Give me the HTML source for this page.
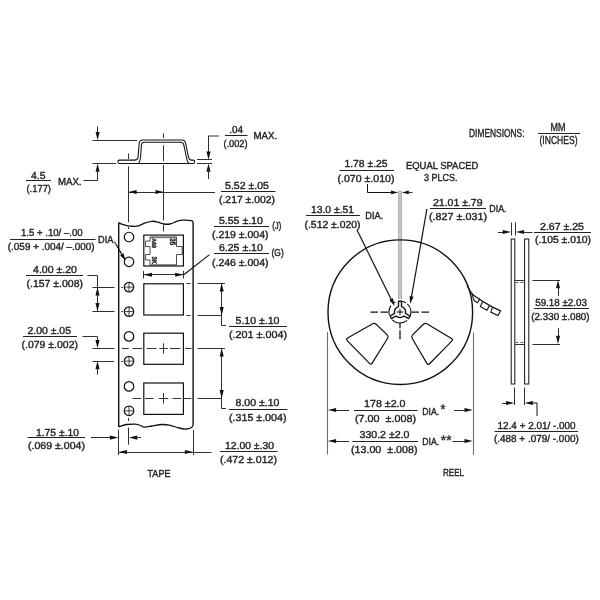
<!DOCTYPE html>
<html lang="en">
<head>
<meta charset="utf-8">
<title>Tape and Reel Dimensions</title>
<style>
html,body{margin:0;padding:0;background:#fff;}
body{width:600px;height:600px;overflow:hidden;}
svg{display:block;opacity:0.999;will-change:transform;}
svg text{white-space:pre;text-rendering:geometricPrecision;font-family:"Liberation Sans",sans-serif;fill:#222222;stroke:#222222;stroke-width:0.38px;}
</style>
</head>
<body>
<svg width="600" height="600" viewBox="0 0 600 600">
<rect x="0" y="0" width="600" height="600" fill="#ffffff"/>
<path d="M119.3,160.1 L134.6,160.1 Q137.6,160.1 138,157.4 L139.2,143.6 Q139.5,139.9 143,139.9 L182,139.9 Q184.8,139.9 185.5,142.6 L188.5,157.4 Q189.1,160.1 191.6,160.1 L193.2,160.1 Q194.7,160.1 194.7,161.7 Q194.7,163.4 193.2,163.4 L119.3,163.4 Q117.9,163.4 117.9,161.7 Q117.9,160.1 119.3,160.1 Z" fill="none" stroke="#111111" stroke-width="1.05" stroke-linejoin="round"/>
<path d="M138.7,163.4 Q140.2,160.5 140.6,157 L141.4,145.2 Q141.6,142.3 144.5,142.3 L180.8,142.3 Q183.2,142.3 183.8,144.9 L186.6,158 Q187,161 188.6,163.4" fill="none" stroke="#111111" stroke-width="1.05" stroke-linejoin="round"/>
<line x1="163.5" y1="133.3" x2="163.5" y2="138" stroke="#303030" stroke-width="1.0"/>
<line x1="163.5" y1="145.3" x2="163.5" y2="161" stroke="#303030" stroke-width="1.0"/>
<line x1="163.5" y1="165" x2="163.5" y2="220.3" stroke="#303030" stroke-width="1.0"/>
<line x1="128.5" y1="153.5" x2="128.5" y2="159" stroke="#303030" stroke-width="1.0"/>
<line x1="128.5" y1="166.3" x2="128.5" y2="222.3" stroke="#303030" stroke-width="1.0"/>
<line x1="128.5" y1="227" x2="128.5" y2="229" stroke="#303030" stroke-width="1.0"/>
<line x1="163.5" y1="224.8" x2="163.5" y2="231.5" stroke="#303030" stroke-width="1.0"/>
<line x1="128.6" y1="192.5" x2="215" y2="192.5" stroke="#303030" stroke-width="1.0"/>
<polygon points="128.30,192.00 136.60,189.95 136.60,194.05" fill="#111111"/>
<polygon points="163.80,192.00 155.50,194.05 155.50,189.95" fill="#111111"/>
<text x="225" y="188.6" font-size="10.2" textLength="44" lengthAdjust="spacingAndGlyphs" text-anchor="start" >5.52 ±.05</text>
<line x1="221" y1="191.5" x2="275.5" y2="191.5" stroke="#222222" stroke-width="1.0"/>
<text x="219" y="203.1" font-size="10.2" textLength="56" lengthAdjust="spacingAndGlyphs" text-anchor="start" >(.217 ±.002)</text>
<line x1="92.5" y1="140.5" x2="137" y2="140.5" stroke="#303030" stroke-width="1.0"/>
<line x1="92.5" y1="163.5" x2="116" y2="163.5" stroke="#303030" stroke-width="1.0"/>
<line x1="97.5" y1="126.4" x2="97.5" y2="134" stroke="#303030" stroke-width="1.0"/>
<polygon points="97.60,140.30 95.55,132.00 99.65,132.00" fill="#111111"/>
<polygon points="97.60,163.40 99.65,171.70 95.55,171.70" fill="#111111"/>
<line x1="97.5" y1="170" x2="97.5" y2="180.5" stroke="#303030" stroke-width="1.0"/>
<line x1="83.5" y1="180.5" x2="98" y2="180.5" stroke="#303030" stroke-width="1.0"/>
<text x="31" y="178.6" font-size="10.2" textLength="14.5" lengthAdjust="spacingAndGlyphs" text-anchor="start" >4.5</text>
<line x1="26" y1="180.5" x2="51" y2="180.5" stroke="#222222" stroke-width="1.0"/>
<text x="26.5" y="191.6" font-size="10.2" textLength="24.5" lengthAdjust="spacingAndGlyphs" text-anchor="start" >(.177)</text>
<text x="58" y="184.6" font-size="10.2" textLength="23.5" lengthAdjust="spacingAndGlyphs" text-anchor="start" >MAX.</text>
<line x1="197" y1="159.5" x2="212" y2="159.5" stroke="#303030" stroke-width="1.0"/>
<line x1="197" y1="163.5" x2="212" y2="163.5" stroke="#303030" stroke-width="1.0"/>
<line x1="208.5" y1="136" x2="208.5" y2="152" stroke="#303030" stroke-width="1.0"/>
<line x1="208" y1="136" x2="219" y2="136" stroke="#303030" stroke-width="1.0"/>
<polygon points="208.50,159.70 206.45,151.40 210.55,151.40" fill="#111111"/>
<polygon points="208.50,163.50 210.55,171.80 206.45,171.80" fill="#111111"/>
<line x1="208.5" y1="170" x2="208.5" y2="179" stroke="#303030" stroke-width="1.0"/>
<text x="229.3" y="133.1" font-size="10.2" textLength="13.7" lengthAdjust="spacingAndGlyphs" text-anchor="start" >.04</text>
<line x1="225" y1="135.5" x2="247.5" y2="135.5" stroke="#222222" stroke-width="1.0"/>
<text x="223.4" y="146.6" font-size="10.2" textLength="24.1" lengthAdjust="spacingAndGlyphs" text-anchor="start" >(.002)</text>
<text x="253.4" y="138.9" font-size="10.2" textLength="23.7" lengthAdjust="spacingAndGlyphs" text-anchor="start" >MAX.</text>
<path d="M118.7,222.8 C120.5,223.5 122,224.3 123.5,224.7 S128,226 131,226.2 S135,226.5 137,226.2 S142,224.2 144.5,223.2 S149.5,221.5 152,221.3 S156,221.6 158,222.2 S162,223.7 164,224 S168,224.4 170,224 S174,222.5 176,221.7 S180,220.4 182,220.2 S188,220.1 191.4,220.6 Q193.1,220.9 193.1,222.4" fill="none" stroke="#111111" stroke-width="1.3" />
<path d="M118.7,426.8 C121,426.1 124,424.8 126.5,424.5 S132,423.9 135.5,424.1 S141,425.8 143.7,427.1 C146,427.4 149,426.5 152,426.0 S159,424.6 162.5,424.5 S167.5,424.8 170,425.3 S176,427.2 179,428.0 S184,429.2 186.5,429.0 S190.3,428.5 191.6,427.5 S193.1,425.6 193.1,424.3" fill="none" stroke="#111111" stroke-width="1.3" />
<line x1="118.7" y1="222.5" x2="118.7" y2="427.1" stroke="#111111" stroke-width="1.4"/>
<line x1="193.1" y1="222.2" x2="193.1" y2="424.5" stroke="#111111" stroke-width="1.4"/>
<circle cx="129.0" cy="237" r="4.75" fill="none" stroke="#111111" stroke-width="1.2"/>
<circle cx="129.0" cy="261.8" r="4.75" fill="none" stroke="#111111" stroke-width="1.2"/>
<circle cx="129.0" cy="287.1" r="4.75" fill="none" stroke="#111111" stroke-width="1.2"/>
<line x1="124.4" y1="287.1" x2="133.6" y2="287.1" stroke="#303030" stroke-width="0.9"/>
<line x1="129.0" y1="282.5" x2="129.0" y2="291.70000000000005" stroke="#303030" stroke-width="0.9"/>
<circle cx="129.0" cy="311.6" r="4.75" fill="none" stroke="#111111" stroke-width="1.2"/>
<line x1="124.4" y1="311.6" x2="133.6" y2="311.6" stroke="#303030" stroke-width="0.9"/>
<line x1="129.0" y1="307.0" x2="129.0" y2="316.20000000000005" stroke="#303030" stroke-width="0.9"/>
<circle cx="129.0" cy="336.4" r="4.75" fill="none" stroke="#111111" stroke-width="1.2"/>
<circle cx="129.0" cy="361.1" r="4.75" fill="none" stroke="#111111" stroke-width="1.2"/>
<line x1="124.4" y1="361.1" x2="133.6" y2="361.1" stroke="#303030" stroke-width="0.9"/>
<line x1="129.0" y1="356.5" x2="129.0" y2="365.70000000000005" stroke="#303030" stroke-width="0.9"/>
<circle cx="129.0" cy="386.4" r="4.75" fill="none" stroke="#111111" stroke-width="1.2"/>
<circle cx="129.0" cy="410.8" r="4.75" fill="none" stroke="#111111" stroke-width="1.2"/>
<line x1="124.4" y1="410.8" x2="133.6" y2="410.8" stroke="#303030" stroke-width="0.9"/>
<line x1="129.0" y1="406.2" x2="129.0" y2="415.40000000000003" stroke="#303030" stroke-width="0.9"/>
<rect x="143.8" y="235.1" width="39.599999999999994" height="30.900000000000006" fill="none" stroke="#111111" stroke-width="1.2"/>
<rect x="143.8" y="283.8" width="39.599999999999994" height="31.19999999999999" fill="none" stroke="#111111" stroke-width="1.2"/>
<rect x="143.8" y="333.2" width="39.599999999999994" height="31.100000000000023" fill="none" stroke="#111111" stroke-width="1.2"/>
<rect x="143.8" y="383" width="39.599999999999994" height="31.399999999999977" fill="none" stroke="#111111" stroke-width="1.2"/>
<path d="M150.6,237.6 H176 M150.6,264.6 H176" fill="none" stroke="#a0a0a0" stroke-width="1.2" />
<path d="M182.2,247 V254" fill="none" stroke="#a0a0a0" stroke-width="1.0" />
<path d="M150,237 H176.5 V246.5 H182.3 V254.5 H176.5 V265.3 H150 V260 H145.6 V254.5 H150 V246.6 H145.6 V241 H150 Z" fill="none" stroke="#3a3a3a" stroke-width="0.9" />
<text x="0" y="0.6" font-size="6.0" textLength="9.6" lengthAdjust="spacingAndGlyphs" text-anchor="start" transform="translate(152.6,238.2) rotate(90)" font-weight="bold">A69</text>
<text x="0" y="0.6" font-size="7.0" textLength="7.4" lengthAdjust="spacingAndGlyphs" text-anchor="start" transform="translate(152.4,256.6) rotate(90)" font-weight="bold">3K</text>
<text x="0" y="0.6" font-size="8.0" textLength="7.0" lengthAdjust="spacingAndGlyphs" text-anchor="start" transform="translate(170.4,238.2) rotate(90)" font-weight="bold">35</text>
<line x1="143.5" y1="271" x2="143.5" y2="278.5" stroke="#303030" stroke-width="1.0"/>
<line x1="183.5" y1="271" x2="183.5" y2="278.5" stroke="#303030" stroke-width="1.0"/>
<line x1="144" y1="274.5" x2="183.5" y2="274.5" stroke="#303030" stroke-width="1.0"/>
<polygon points="143.70,274.70 152.00,272.65 152.00,276.75" fill="#111111"/>
<polygon points="183.50,274.70 175.20,276.75 175.20,272.65" fill="#111111"/>
<line x1="183.8" y1="274.7" x2="209.5" y2="254.6" stroke="#111111" stroke-width="1.1"/>
<text x="219" y="223.6" font-size="10.2" textLength="43.8" lengthAdjust="spacingAndGlyphs" text-anchor="start" >5.55 ±.10</text>
<line x1="214" y1="226.5" x2="269" y2="226.5" stroke="#222222" stroke-width="1.0"/>
<text x="212" y="237.6" font-size="10.2" textLength="56.5" lengthAdjust="spacingAndGlyphs" text-anchor="start" >(.219 ±.004)</text>
<text x="272.3" y="228.9" font-size="10" textLength="9" lengthAdjust="spacingAndGlyphs" text-anchor="start" >(J)</text>
<text x="219" y="251.2" font-size="10.2" textLength="43.8" lengthAdjust="spacingAndGlyphs" text-anchor="start" >6.25 ±.10</text>
<line x1="214" y1="253.5" x2="269" y2="253.5" stroke="#222222" stroke-width="1.0"/>
<text x="212" y="265.6" font-size="10.2" textLength="56.5" lengthAdjust="spacingAndGlyphs" text-anchor="start" >(.246 ±.004)</text>
<text x="271.5" y="256.2" font-size="10" textLength="12.2" lengthAdjust="spacingAndGlyphs" text-anchor="start" >(G)</text>
<text x="33" y="273.1" font-size="10.2" textLength="44" lengthAdjust="spacingAndGlyphs" text-anchor="start" >4.00 ±.20</text>
<line x1="26" y1="275.5" x2="83" y2="275.5" stroke="#222222" stroke-width="1.0"/>
<text x="26.5" y="286.6" font-size="10.2" textLength="56.5" lengthAdjust="spacingAndGlyphs" text-anchor="start" >(.157 ±.008)</text>
<line x1="87.5" y1="275.5" x2="97.5" y2="275.5" stroke="#303030" stroke-width="1.0"/>
<line x1="97.5" y1="275.5" x2="97.5" y2="311.3" stroke="#303030" stroke-width="1.0"/>
<polygon points="97.50,287.30 99.55,295.60 95.45,295.60" fill="#111111"/>
<polygon points="97.50,311.30 95.45,303.00 99.55,303.00" fill="#111111"/>
<line x1="92.5" y1="287.5" x2="114.5" y2="287.5" stroke="#303030" stroke-width="1.0"/>
<line x1="92.5" y1="311.5" x2="114.5" y2="311.5" stroke="#303030" stroke-width="1.0"/>
<line x1="121.2" y1="287.5" x2="122.8" y2="287.5" stroke="#303030" stroke-width="1.0"/>
<line x1="121.2" y1="311.5" x2="122.8" y2="311.5" stroke="#303030" stroke-width="1.0"/>
<text x="27.5" y="334.3" font-size="10.2" textLength="43.5" lengthAdjust="spacingAndGlyphs" text-anchor="start" >2.00 ±.05</text>
<line x1="23" y1="336.5" x2="77" y2="336.5" stroke="#222222" stroke-width="1.0"/>
<text x="21.5" y="348.1" font-size="10.2" textLength="56.5" lengthAdjust="spacingAndGlyphs" text-anchor="start" >(.079 ±.002)</text>
<line x1="82.5" y1="336.5" x2="97.5" y2="336.5" stroke="#303030" stroke-width="1.0"/>
<line x1="97.5" y1="336.7" x2="97.5" y2="341" stroke="#303030" stroke-width="1.0"/>
<polygon points="97.50,348.30 95.45,340.00 99.55,340.00" fill="#111111"/>
<polygon points="97.50,361.00 99.55,369.30 95.45,369.30" fill="#111111"/>
<line x1="97.5" y1="368" x2="97.5" y2="374.5" stroke="#303030" stroke-width="1.0"/>
<line x1="92.5" y1="348.5" x2="114.5" y2="348.5" stroke="#303030" stroke-width="1.0"/>
<line x1="92.5" y1="361.5" x2="114" y2="361.5" stroke="#303030" stroke-width="1.0"/>
<line x1="121.2" y1="361.5" x2="122.8" y2="361.5" stroke="#303030" stroke-width="1.0"/>
<line x1="122" y1="348.5" x2="128.7" y2="348.5" stroke="#303030" stroke-width="1.0"/>
<line x1="132.5" y1="348.5" x2="142.2" y2="348.5" stroke="#303030" stroke-width="1.0"/>
<line x1="146.7" y1="348.5" x2="156.5" y2="348.5" stroke="#303030" stroke-width="1.0"/>
<line x1="159.3" y1="348.5" x2="167.7" y2="348.5" stroke="#303030" stroke-width="1.0"/>
<line x1="170" y1="348.5" x2="180.5" y2="348.5" stroke="#303030" stroke-width="1.0"/>
<line x1="185" y1="348.5" x2="191.5" y2="348.5" stroke="#303030" stroke-width="1.0"/>
<line x1="163.5" y1="343.3" x2="163.5" y2="353.6" stroke="#303030" stroke-width="1.0"/>
<line x1="132.5" y1="398.5" x2="141.2" y2="398.5" stroke="#303030" stroke-width="1.0"/>
<line x1="145" y1="398.5" x2="153.7" y2="398.5" stroke="#303030" stroke-width="1.0"/>
<line x1="158.9" y1="398.5" x2="168.3" y2="398.5" stroke="#303030" stroke-width="1.0"/>
<line x1="172.5" y1="398.5" x2="181.2" y2="398.5" stroke="#303030" stroke-width="1.0"/>
<line x1="183.9" y1="398.5" x2="191.2" y2="398.5" stroke="#303030" stroke-width="1.0"/>
<line x1="163.5" y1="393" x2="163.5" y2="403.5" stroke="#303030" stroke-width="1.0"/>
<line x1="186.5" y1="283.5" x2="190.5" y2="283.5" stroke="#303030" stroke-width="1.0"/>
<line x1="186.5" y1="315.5" x2="190.5" y2="315.5" stroke="#303030" stroke-width="1.0"/>
<line x1="197.5" y1="283.5" x2="225" y2="283.5" stroke="#303030" stroke-width="1.0"/>
<line x1="197.5" y1="315.5" x2="222" y2="315.5" stroke="#303030" stroke-width="1.0"/>
<line x1="221.5" y1="283.2" x2="221.5" y2="325.7" stroke="#303030" stroke-width="1.0"/>
<polygon points="221.70,283.20 223.75,291.50 219.65,291.50" fill="#111111"/>
<polygon points="221.70,315.20 219.65,306.90 223.75,306.90" fill="#111111"/>
<line x1="221.7" y1="325.5" x2="226" y2="325.5" stroke="#303030" stroke-width="1.0"/>
<text x="235.5" y="323.6" font-size="10.2" textLength="44.0" lengthAdjust="spacingAndGlyphs" text-anchor="start" >5.10 ±.10</text>
<line x1="229" y1="326.5" x2="287" y2="326.5" stroke="#222222" stroke-width="1.0"/>
<text x="229" y="337.6" font-size="10.2" textLength="58" lengthAdjust="spacingAndGlyphs" text-anchor="start" >(.201 ±.004)</text>
<line x1="197.5" y1="348.5" x2="225" y2="348.5" stroke="#303030" stroke-width="1.0"/>
<line x1="197.5" y1="398.5" x2="222" y2="398.5" stroke="#303030" stroke-width="1.0"/>
<line x1="221.5" y1="348.3" x2="221.5" y2="408.8" stroke="#303030" stroke-width="1.0"/>
<polygon points="221.70,348.30 223.75,356.60 219.65,356.60" fill="#111111"/>
<polygon points="221.70,398.30 219.65,390.00 223.75,390.00" fill="#111111"/>
<line x1="221.7" y1="408.5" x2="226" y2="408.5" stroke="#303030" stroke-width="1.0"/>
<text x="235.5" y="406.3" font-size="10.2" textLength="44.0" lengthAdjust="spacingAndGlyphs" text-anchor="start" >8.00 ±.10</text>
<line x1="229" y1="409.5" x2="287.5" y2="409.5" stroke="#222222" stroke-width="1.0"/>
<text x="229" y="420.6" font-size="10.2" textLength="57.5" lengthAdjust="spacingAndGlyphs" text-anchor="start" >(.315 ±.004)</text>
<text x="21" y="235.8" font-size="10.2" textLength="61.6" lengthAdjust="spacingAndGlyphs" text-anchor="start" >1.5 + .10/ –.00</text>
<line x1="10" y1="239.5" x2="95.6" y2="239.5" stroke="#222222" stroke-width="1.0"/>
<text x="7.8" y="249.9" font-size="10.2" textLength="86.8" lengthAdjust="spacingAndGlyphs" text-anchor="start" >(.059 + .004/ –.000)</text>
<text x="98" y="243.2" font-size="10.2" textLength="18" lengthAdjust="spacingAndGlyphs" text-anchor="start" >DIA.</text>
<line x1="115.5" y1="243.5" x2="123.6" y2="257.4" stroke="#111111" stroke-width="1.2"/>
<polygon points="125.60,260.80 120.07,255.35 123.52,253.32" fill="#111111"/>
<text x="36" y="435.6" font-size="10.2" textLength="43" lengthAdjust="spacingAndGlyphs" text-anchor="start" >1.75 ±.10</text>
<line x1="27.5" y1="437.5" x2="85" y2="437.5" stroke="#222222" stroke-width="1.0"/>
<text x="28" y="449.3" font-size="10.2" textLength="57" lengthAdjust="spacingAndGlyphs" text-anchor="start" >(.069 ±.004)</text>
<line x1="91" y1="437.5" x2="112" y2="437.5" stroke="#303030" stroke-width="1.0"/>
<polygon points="118.20,437.60 109.90,439.65 109.90,435.55" fill="#111111"/>
<polygon points="129.00,437.60 137.30,435.55 137.30,439.65" fill="#111111"/>
<line x1="136" y1="437.5" x2="141" y2="437.5" stroke="#303030" stroke-width="1.0"/>
<line x1="128.5" y1="418" x2="128.5" y2="421" stroke="#303030" stroke-width="1.0"/>
<line x1="128.5" y1="427.6" x2="128.5" y2="444.7" stroke="#303030" stroke-width="1.0"/>
<line x1="118.5" y1="429.6" x2="118.5" y2="455" stroke="#303030" stroke-width="1.0"/>
<line x1="193.5" y1="430" x2="193.5" y2="455" stroke="#303030" stroke-width="1.0"/>
<line x1="118.7" y1="452.5" x2="211.5" y2="452.5" stroke="#303030" stroke-width="1.0"/>
<polygon points="118.70,452.00 127.00,449.95 127.00,454.05" fill="#111111"/>
<polygon points="193.10,452.00 184.80,454.05 184.80,449.95" fill="#111111"/>
<text x="225" y="448.8" font-size="10.2" textLength="49" lengthAdjust="spacingAndGlyphs" text-anchor="start" >12.00 ±.30</text>
<line x1="220" y1="451.5" x2="277.5" y2="451.5" stroke="#222222" stroke-width="1.0"/>
<text x="220" y="463.3" font-size="10.2" textLength="57" lengthAdjust="spacingAndGlyphs" text-anchor="start" >(.472 ±.012)</text>
<text x="147.5" y="476.6" font-size="10.2" textLength="23" lengthAdjust="spacingAndGlyphs" text-anchor="start" >TAPE</text>
<rect x="398.2" y="190.6" width="3.6" height="108.6" fill="#cacaca"/>
<line x1="398.6" y1="190.6" x2="398.6" y2="299.2" stroke="#a4a4a4" stroke-width="0.8"/>
<line x1="401.4" y1="190.6" x2="401.4" y2="299.2" stroke="#a4a4a4" stroke-width="0.8"/>
<circle cx="400.3" cy="312.2" r="72.3" fill="none" stroke="#111111" stroke-width="1.4"/>
<path d="M347.23,340.58 Q345.7,339 347.62,337.92 L372.68,323.78 Q374.6,322.7 376.18,324.23 L387.22,334.87 Q388.8,336.4 387.64,338.27 L372.16,363.13 Q371,365 369.47,363.42 Z" fill="none" stroke="#111111" stroke-width="1.2" />
<path d="M451.76,341.17 Q453.3,339.6 451.41,338.47 L426.89,323.83 Q425,322.7 423.43,324.24 L412.57,334.86 Q411,336.4 412.12,338.30 L426.88,363.40 Q428,365.3 429.54,363.73 Z" fill="none" stroke="#111111" stroke-width="1.2" />
<path d="M398.50,306.60 L398.50,301.40 L401.50,301.40 L401.50,306.60 A5.6,5.6 0 0 1 405.42,313.40 L409.93,316.00 L408.43,318.60 L403.92,316.00 A5.6,5.6 0 0 1 396.08,316.00 L391.57,318.60 L390.07,316.00 L394.58,313.40 A5.6,5.6 0 0 1 398.50,306.60 Z" fill="none" stroke="#111111" stroke-width="1.4" stroke-linejoin="round"/>
<path d="M398.66,301.08 A11.0,11.0 0 0 1 405.83,302.67 M407.36,303.83 A11.0,11.0 0 0 1 409.80,316.99 M407.07,320.43 A11.0,11.0 0 0 1 392.22,319.78 M389.48,315.22 A11.0,11.0 0 0 1 390.99,305.69 M393.38,303.22 A11.0,11.0 0 0 1 395.35,302.03 " fill="none" stroke="#111111" stroke-width="1.1" />
<line x1="396.8" y1="312" x2="403.2" y2="312" stroke="#111111" stroke-width="1.1"/>
<line x1="400.0" y1="308.8" x2="400.0" y2="315.2" stroke="#111111" stroke-width="1.1"/>
<line x1="370.5" y1="312" x2="388.5" y2="312" stroke="#111111" stroke-width="1.25" stroke-dasharray="7.5 2.5"/>
<line x1="411.5" y1="312" x2="429.5" y2="312" stroke="#111111" stroke-width="1.25" stroke-dasharray="7.5 2.5"/>
<line x1="400" y1="322.7" x2="400" y2="339.3" stroke="#111111" stroke-width="1.25" stroke-dasharray="5.6 2 9 0"/>
<text x="344.5" y="166.9" font-size="10.2" textLength="43.0" lengthAdjust="spacingAndGlyphs" text-anchor="start" >1.78 ±.25</text>
<line x1="339.5" y1="170.5" x2="394" y2="170.5" stroke="#222222" stroke-width="1.0"/>
<text x="337.5" y="181.6" font-size="10.2" textLength="57.0" lengthAdjust="spacingAndGlyphs" text-anchor="start" >(.070 ±.010)</text>
<path d="M367.5,184 L367.5,192.5 L392,192.5" fill="none" stroke="#111111" stroke-width="1.0" />
<polygon points="398.30,192.40 391.00,194.20 391.00,190.60" fill="#111111"/>
<polygon points="402.00,192.40 408.80,190.60 408.80,194.20" fill="#111111"/>
<line x1="408" y1="192.5" x2="412.6" y2="192.5" stroke="#303030" stroke-width="1.0"/>
<text x="406" y="169.3" font-size="10.2" textLength="72.3" lengthAdjust="spacingAndGlyphs" text-anchor="start" >EQUAL SPACED</text>
<text x="424" y="180.8" font-size="10.2" textLength="33.5" lengthAdjust="spacingAndGlyphs" text-anchor="start" >3 PLCS.</text>
<text x="311" y="213.1" font-size="10.2" textLength="43" lengthAdjust="spacingAndGlyphs" text-anchor="start" >13.0 ±.51</text>
<line x1="306" y1="215.5" x2="360" y2="215.5" stroke="#222222" stroke-width="1.0"/>
<text x="304.5" y="227.6" font-size="10.2" textLength="56.0" lengthAdjust="spacingAndGlyphs" text-anchor="start" >(.512 ±.020)</text>
<text x="365.3" y="218.9" font-size="10.2" textLength="18" lengthAdjust="spacingAndGlyphs" text-anchor="start" >DIA.</text>
<line x1="357" y1="230" x2="392.6" y2="302.2" stroke="#111111" stroke-width="1.2"/>
<polygon points="394.60,306.20 389.35,300.09 392.94,298.32" fill="#111111"/>
<text x="433" y="205.8" font-size="10.2" textLength="49.5" lengthAdjust="spacingAndGlyphs" text-anchor="start" >21.01 ±.79</text>
<line x1="430" y1="208.5" x2="486" y2="208.5" stroke="#222222" stroke-width="1.0"/>
<text x="429" y="219.6" font-size="10.2" textLength="58" lengthAdjust="spacingAndGlyphs" text-anchor="start" >(.827 ±.031)</text>
<text x="489.3" y="211.9" font-size="10.2" textLength="17.3" lengthAdjust="spacingAndGlyphs" text-anchor="start" >DIA.</text>
<line x1="426.9" y1="209" x2="411.09999999999997" y2="299" stroke="#111111" stroke-width="1.2"/>
<polygon points="410.20,304.00 409.62,295.97 413.55,296.68" fill="#111111"/>
<path d="M467,285.3 C468.8,289.5 471.8,294 475,296.3 S486,303.6 492.5,307.1 L500.7,310.9" fill="none" stroke="#111111" stroke-width="1.2" />
<path d="M471.8,293.6 L474.2,300.6 L477.4,302.8 L480,298.6" fill="none" stroke="#111111" stroke-width="1.1" stroke-linejoin="miter"/>
<path d="M482.7,301.6 L480.3,306.6 L486.8,310.3 L489.6,305.6" fill="none" stroke="#111111" stroke-width="1.1" />
<path d="M492.6,307.1 L490.8,312.1 L497.9,315.5 L500.7,310.9" fill="none" stroke="#111111" stroke-width="1.1" />
<line x1="327.5" y1="332" x2="327.5" y2="454.5" stroke="#6e6e6e" stroke-width="1.1"/>
<line x1="473.5" y1="332.5" x2="473.5" y2="455" stroke="#6e6e6e" stroke-width="1.1"/>
<line x1="336" y1="410.5" x2="349" y2="410.5" stroke="#303030" stroke-width="1.0"/>
<polygon points="327.80,410.00 336.10,407.95 336.10,412.05" fill="#111111"/>
<line x1="336" y1="441.5" x2="349" y2="441.5" stroke="#303030" stroke-width="1.0"/>
<polygon points="327.80,441.00 336.10,438.95 336.10,443.05" fill="#111111"/>
<line x1="454" y1="410.5" x2="466" y2="410.5" stroke="#303030" stroke-width="1.0"/>
<polygon points="472.80,410.00 464.50,412.05 464.50,407.95" fill="#111111"/>
<line x1="452.5" y1="441.5" x2="466" y2="441.5" stroke="#303030" stroke-width="1.0"/>
<polygon points="472.80,441.00 464.50,443.05 464.50,438.95" fill="#111111"/>
<text x="364" y="406.9" font-size="10.2" textLength="41.5" lengthAdjust="spacingAndGlyphs" text-anchor="start" >178 ±2.0</text>
<line x1="354" y1="410.5" x2="417.5" y2="410.5" stroke="#222222" stroke-width="1.0"/>
<text x="355" y="421.9" font-size="10.2" textLength="61" lengthAdjust="spacingAndGlyphs" text-anchor="start" >(7.00  ±.008)</text>
<text x="422.2" y="414.8" font-size="10.2" textLength="17" lengthAdjust="spacingAndGlyphs" text-anchor="start" >DIA.</text>
<text x="440.5" y="414.2" font-size="14" textLength="4.9" lengthAdjust="spacingAndGlyphs" text-anchor="start" >*</text>
<text x="359.5" y="438.4" font-size="10.2" textLength="50.0" lengthAdjust="spacingAndGlyphs" text-anchor="start" >330.2 ±2.0</text>
<line x1="352.5" y1="441.5" x2="418" y2="441.5" stroke="#222222" stroke-width="1.0"/>
<text x="351" y="453.1" font-size="10.2" textLength="66.5" lengthAdjust="spacingAndGlyphs" text-anchor="start" >(13.00  ±.008)</text>
<text x="422.2" y="445.4" font-size="10.2" textLength="17" lengthAdjust="spacingAndGlyphs" text-anchor="start" >DIA.</text>
<text x="440.8" y="445.0" font-size="14" textLength="10.8" lengthAdjust="spacingAndGlyphs" text-anchor="start" >**</text>
<text x="443" y="475.8" font-size="10.2" textLength="21" lengthAdjust="spacingAndGlyphs" text-anchor="start" >REEL</text>
<rect x="511.2" y="239" width="3.599999999999966" height="145" fill="none" stroke="#111111" stroke-width="1"/>
<rect x="524.6" y="239" width="4.199999999999932" height="145" fill="none" stroke="#111111" stroke-width="1"/>
<line x1="514.8" y1="280.5" x2="524.6" y2="280.5" stroke="#303030" stroke-width="1.0"/>
<line x1="514.8" y1="344.5" x2="524.6" y2="344.5" stroke="#303030" stroke-width="1.0"/>
<line x1="515.5" y1="282.5" x2="524" y2="282.5" stroke="#303030" stroke-width="0.8" stroke-dasharray="3 2"/>
<line x1="515.5" y1="342.5" x2="524" y2="342.5" stroke="#303030" stroke-width="0.8" stroke-dasharray="3 2"/>
<line x1="511.5" y1="222.5" x2="511.5" y2="235.5" stroke="#303030" stroke-width="1.0"/>
<line x1="515.5" y1="222.5" x2="515.5" y2="235.5" stroke="#303030" stroke-width="1.0"/>
<line x1="498" y1="232.5" x2="504" y2="232.5" stroke="#303030" stroke-width="1.0"/>
<polygon points="511.00,232.00 502.70,234.05 502.70,229.95" fill="#111111"/>
<polygon points="515.80,232.00 524.10,229.95 524.10,234.05" fill="#111111"/>
<line x1="523" y1="232.5" x2="532.5" y2="232.5" stroke="#303030" stroke-width="1.0"/>
<text x="540" y="229.6" font-size="10.2" textLength="44" lengthAdjust="spacingAndGlyphs" text-anchor="start" >2.67 ±.25</text>
<line x1="534" y1="232.5" x2="591" y2="232.5" stroke="#222222" stroke-width="1.0"/>
<text x="535" y="243.1" font-size="10.2" textLength="56" lengthAdjust="spacingAndGlyphs" text-anchor="start" >(.105 ±.010)</text>
<line x1="532.5" y1="280.5" x2="560" y2="280.5" stroke="#303030" stroke-width="1.0"/>
<line x1="532.5" y1="344.5" x2="560" y2="344.5" stroke="#303030" stroke-width="1.0"/>
<polygon points="558.00,280.00 560.05,288.30 555.95,288.30" fill="#111111"/>
<line x1="558.5" y1="287" x2="558.5" y2="296" stroke="#303030" stroke-width="1.0"/>
<polygon points="558.00,344.00 555.95,335.70 560.05,335.70" fill="#111111"/>
<line x1="558.5" y1="328" x2="558.5" y2="337" stroke="#303030" stroke-width="1.0"/>
<text x="535.2" y="305.6" font-size="10.2" textLength="51.8" lengthAdjust="spacingAndGlyphs" text-anchor="start" >59.18 ±2.03</text>
<line x1="534" y1="308.5" x2="589" y2="308.5" stroke="#222222" stroke-width="1.0"/>
<text x="531.3" y="319.6" font-size="10.2" textLength="58.3" lengthAdjust="spacingAndGlyphs" text-anchor="start" >(2.330 ±.080)</text>
<line x1="514.5" y1="387.5" x2="514.5" y2="405" stroke="#303030" stroke-width="1.0"/>
<line x1="524.5" y1="387.5" x2="524.5" y2="405" stroke="#303030" stroke-width="1.0"/>
<line x1="502" y1="403.5" x2="508" y2="403.5" stroke="#303030" stroke-width="1.0"/>
<polygon points="514.40,403.00 506.10,405.05 506.10,400.95" fill="#111111"/>
<polygon points="524.60,403.00 532.90,400.95 532.90,405.05" fill="#111111"/>
<path d="M531,403 L537,403 L537,416" fill="none" stroke="#111111" stroke-width="1.0" />
<text x="497.6" y="429.0" font-size="10.2" textLength="78.0" lengthAdjust="spacingAndGlyphs" text-anchor="start" >12.4 + 2.01/ -.000</text>
<line x1="494.5" y1="431.5" x2="578" y2="431.5" stroke="#222222" stroke-width="1.0"/>
<text x="493.9" y="442.4" font-size="10.2" textLength="84.9" lengthAdjust="spacingAndGlyphs" text-anchor="start" >(.488 + .079/ -.000)</text>
<text x="469" y="136.6" font-size="11.6" textLength="55.5" lengthAdjust="spacingAndGlyphs" text-anchor="start" stroke-width="0.5">DIMENSIONS:</text>
<text x="550.5" y="131.1" font-size="11.6" textLength="15.0" lengthAdjust="spacingAndGlyphs" text-anchor="start" >MM</text>
<line x1="538" y1="133.5" x2="580" y2="133.5" stroke="#222222" stroke-width="1.0"/>
<text x="539.5" y="143.6" font-size="11.6" textLength="38.0" lengthAdjust="spacingAndGlyphs" text-anchor="start" >(INCHES)</text>
</svg>
</body>
</html>
